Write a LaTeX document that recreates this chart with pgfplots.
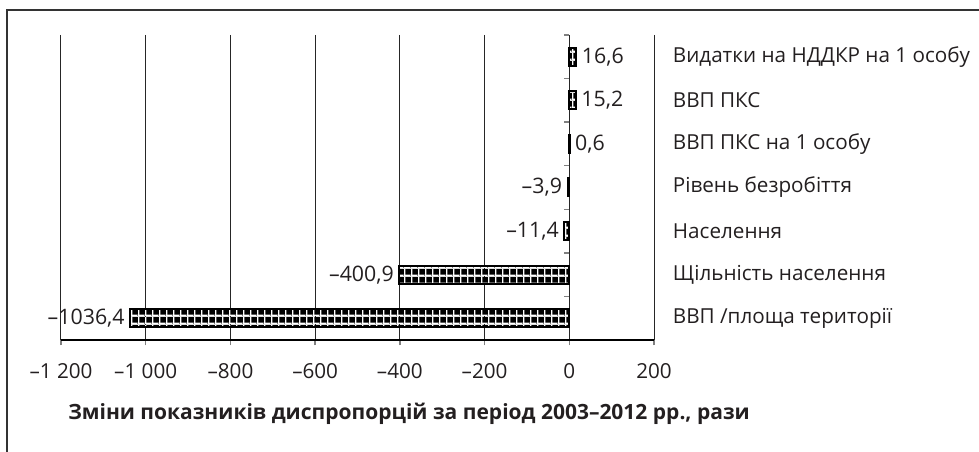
\documentclass[border=0pt]{standalone}
\usepackage{pgfplots}
\pgfplotsset{compat=1.18}
\usepackage{pgfplotstable}
\usepackage{fontspec}
\setmainfont{Open Sans}
\usetikzlibrary{patterns}

\pgfplotstableread[col sep=semicolon]{
y;x;lab
0;16.6;16,6
1;15.2;15,2
2;0.6;0,6
3;-3.9;–3,9
4;-11.4;–11,4
5;-400.9;–400,9
6;-1036.4;–1036,4
}\data

\definecolor{frame}{RGB}{51,51,51}
\definecolor{txt}{RGB}{35,31,32}

\pgfdeclarepatterninherentlycolored{barpat}{\pgfpointorigin}{\pgfqpoint{4.9pt}{6pt}}{\pgfqpoint{4.9pt}{6pt}}{
  \pgfsetfillcolor{black}
  \pgfpathrectangle{\pgfpointorigin}{\pgfqpoint{4.9pt}{6pt}}\pgfusepath{fill}
  \pgfsetfillcolor{white}
  \pgfpathrectangle{\pgfpointorigin}{\pgfqpoint{1.1pt}{6pt}}\pgfusepath{fill}
  \pgfpathrectangle{\pgfpointorigin}{\pgfqpoint{4.9pt}{1.2pt}}\pgfusepath{fill}
}

\begin{document}
\begin{tikzpicture}[font=\fontsize{15.5pt}{19pt}\selectfont, text=txt]
\useasboundingbox (0,0) rectangle (734.25pt,339pt);
\draw[line width=1.5pt, frame] (5.25pt,0) -- (5.25pt,331.5pt) -- (734.25pt,331.5pt);
\begin{axis}[
  at={(45.75pt,84pt)}, anchor=south west,
  scale only axis, width=444.75pt, height=228.75pt,
  xbar, bar width=13.5pt, bar shift=0pt,
  xmin=-1200, xmax=200, ymin=-0.5, ymax=6.5, y dir=reverse,
  axis x line*=bottom, axis y line*=right,
  x axis line style={-, black, line width=1pt},
  y axis line style={draw=none},
  xtick={-1200,-1000,...,200},
  xticklabels={–1 200,–1 000,–800,–600,–400,–200,0,200},
  xtick style={gray, line width=1pt},
  tick align=outside, major tick length=4pt,
  xticklabel style={anchor=north, inner sep=0pt, yshift=-13.25pt},
  xmajorgrids, major grid style={black!85, line width=0.75pt},
  ytick={0,...,6},
  yticklabels={Видатки на НДДКР на 1 особу, ВВП ПКС, ВВП ПКС на 1 особу, Рівень безробіття, Населення, Щільність населення, ВВП /площа території},
  ytick style={draw=none},
  yticklabel style={anchor=west, inner sep=0pt, xshift=10pt},
  point meta=explicit symbolic,
  visualization depends on={rawx \as \rawx},
  nodes near coords,
  every node near coord/.append style={font=\fontsize{16pt}{19pt}\selectfont, inner sep=3.5pt,
    anchor={\ifdim\rawx pt<0pt east\else west\fi}},
]
\addplot[pattern=barpat, draw=black, line width=1.5pt]
  table[x=x, y=y, meta=lab] {\data};
\pgfplotsinvokeforeach{-0.5,0.5,1.5,2.5,3.5,4.5,5.5}{
  \draw[gray, line width=1pt] (axis cs:0,#1) -- ++(-4pt,0pt);
}
\end{axis}
\node[anchor=base west, inner sep=0pt, font=\fontsize{15.75pt}{19pt}\selectfont\bfseries] at (51pt,24pt)
  {Зміни показників диспропорцій за період 2003–2012 рр., рази};
\end{tikzpicture}
\end{document}
